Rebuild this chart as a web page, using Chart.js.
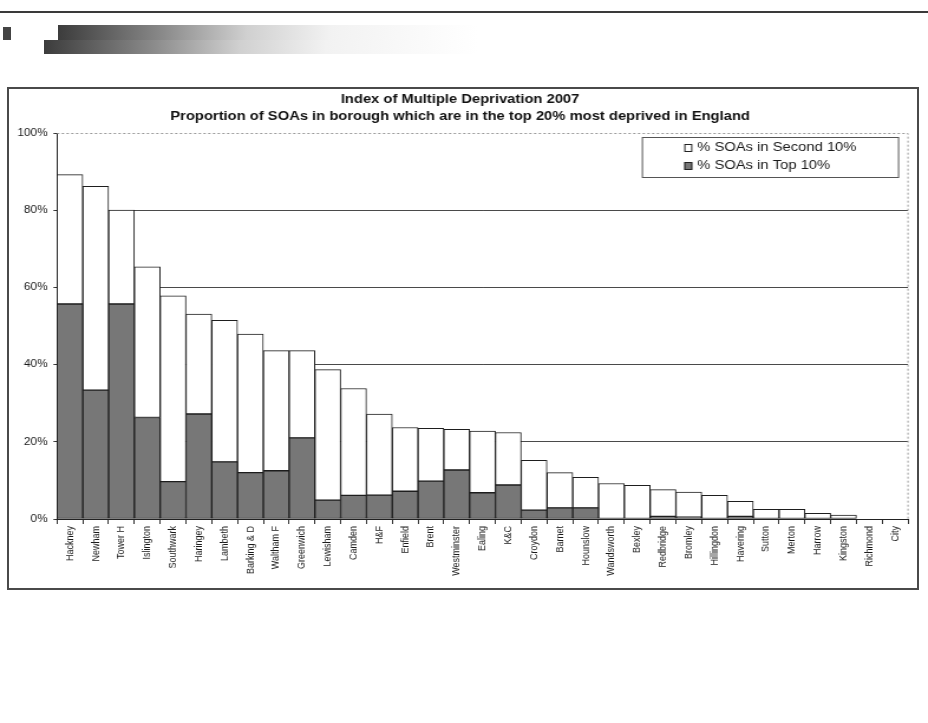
<!DOCTYPE html>
<html>
<head>
<meta charset="utf-8">
<title>Index of Multiple Deprivation 2007</title>
<script src="https://cdn.jsdelivr.net/npm/chart.js@4.4.1/dist/chart.umd.min.js"></script>
<style>
  html, body {
    margin: 0;
    padding: 0;
    background: #ffffff;
    width: 928px;
    height: 723px;
    overflow: hidden;
    font-family: "Liberation Sans", Arial, sans-serif;
  }
  .topRule {
    position: absolute;
    left: 0;
    top: 11px;
    width: 928px;
    height: 2px;
    background: #3a3a3a;
  }
  .smallSquare {
    position: absolute;
    left: 3px;
    top: 27px;
    width: 8px;
    height: 13px;
    background: #444444;
  }
  .bannerTop {
    position: absolute;
    left: 58px;
    top: 25px;
    width: 420px;
    height: 15px;
    background: linear-gradient(to right, #3c3c3c 0%, #8a8a8a 25%, #d0d0d0 45%, #f2f2f2 65%, #ffffff 100%);
  }
  .bannerBottom {
    position: absolute;
    left: 44px;
    top: 40px;
    width: 434px;
    height: 14px;
    background: linear-gradient(to right, #3c3c3c 0%, #8a8a8a 25%, #d0d0d0 45%, #f2f2f2 65%, #ffffff 100%);
  }
  .chartBox {
    position: absolute;
    left: 7px;
    top: 87px;
    width: 908px;
    height: 499px;
    border: 2px solid #4a4a4a;
  }
  /* the scanned original is stretched sideways, so the canvas is too */
  #imdChart {
    position: absolute;
    left: 0;
    top: 0;
    transform: scaleX(1.1806);
    transform-origin: 0 0;
  }
</style>
</head>
<body>
<div class="topRule"></div>
<div class="smallSquare"></div>
<div class="bannerTop"></div>
<div class="bannerBottom"></div>
<div class="chartBox"></div>
<canvas id="imdChart" width="786" height="723"></canvas>

<script>
// boroughs, ordered by total share in the top 20%
var boroughs = [
  "Hackney", "Newham", "Tower H", "Islington", "Southwark", "Haringey",
  "Lambeth", "Barking & D", "Waltham F", "Greenwich", "Lewisham", "Camden",
  "H&F", "Enfield", "Brent", "Westminster", "Ealing", "K&C", "Croydon",
  "Barnet", "Hounslow", "Wandsworth", "Bexley", "Redbridge", "Bromley",
  "Hillingdon", "Havering", "Sutton", "Merton", "Harrow", "Kingston",
  "Richmond", "City"
];

// % SOAs in the most deprived 10% in England
var topTenPct = [
  55.7, 33.4, 55.7, 26.3, 9.7, 27.2,
  14.8, 12.0, 12.5, 21.0, 4.9, 6.1,
  6.2, 7.2, 9.8, 12.7, 6.8, 8.8, 2.3,
  2.9, 2.9, 0, 0, 0.7, 0.5,
  0, 0.7, 0, 0, 0, 0,
  0, 0
];

// % SOAs in the second most deprived 10%
var secondTenPct = [
  33.5, 52.8, 24.3, 39.0, 48.1, 25.9,
  36.7, 35.9, 31.1, 22.6, 33.8, 27.7,
  21.0, 16.5, 13.7, 10.5, 16.0, 13.6, 12.9,
  9.1, 7.9, 9.2, 8.7, 6.9, 6.5,
  6.1, 3.9, 2.5, 2.5, 1.5, 1.0,
  0, 0
];

var yTicks = [0, 20, 40, 60, 80, 100];

var titleLines = [
  "Index of Multiple Deprivation 2007",
  "Proportion of SOAs in borough which are in the top 20% most deprived in England"
];

var fontName = "'Liberation Sans', Arial, sans-serif";

// plot area border, dashed on the top and right like the original
var plotFramePlugin = {
  id: "plotFrame",
  beforeDatasetsDraw: function (chart) {
    var a = chart.chartArea;
    var ctx = chart.ctx;
    ctx.save();
    ctx.strokeStyle = "#9a9a9a";
    ctx.lineWidth = 1;
    ctx.setLineDash([2, 2]);
    ctx.beginPath();
    ctx.moveTo(a.left, a.top + 0.5);
    ctx.lineTo(a.right, a.top + 0.5);
    ctx.lineTo(a.right, a.bottom);
    ctx.stroke();
    ctx.restore();
  },
};

// legend sits inside the plot area, top right, with a box round it
var boxedLegendPlugin = {
  id: "boxedLegend",
  afterDraw: function (chart) {
    var a = chart.chartArea;
    var ctx = chart.ctx;
    var boxW = 217;
    var boxH = 40;
    var left = a.right - 8.5 - boxW;
    var top = a.top + 4;

    ctx.save();
    ctx.fillStyle = "#ffffff";
    ctx.fillRect(left, top, boxW, boxH);
    ctx.strokeStyle = "#555555";
    ctx.lineWidth = 1;
    ctx.strokeRect(left + 0.5, top + 0.5, boxW, boxH);

    var items = chart.data.datasets.slice().reverse();
    ctx.font = "12.5px " + fontName;
    ctx.textBaseline = "middle";
    items.forEach(function (ds, i) {
      var y = top + 11 + i * 18;
      var x = left + 36;
      ctx.fillStyle = ds.backgroundColor;
      ctx.fillRect(x, y - 4, 6.8, 8);
      ctx.strokeStyle = "#222222";
      ctx.strokeRect(x + 0.5, y - 3.5, 5.8, 7);
      ctx.fillStyle = "#1a1a1a";
      ctx.fillText(ds.label, x + 11, y);
    });
    ctx.restore();
  },
};

var ctx = document.getElementById("imdChart");

new Chart(ctx, {
  type: "bar",
  data: {
    labels: boroughs,
    datasets: [
      {
        label: "% SOAs in Top 10%",
        data: topTenPct,
        backgroundColor: "#777777",
        borderColor: "#1e1e1e",
        borderWidth: 1,
        borderSkipped: false,
        barPercentage: 1,
        categoryPercentage: 1,
      },
      {
        label: "% SOAs in Second 10%",
        data: secondTenPct,
        backgroundColor: "#ffffff",
        borderColor: "#1e1e1e",
        borderWidth: 1,
        borderSkipped: false,
        barPercentage: 1,
        categoryPercentage: 1,
      },
    ],
  },
  options: {
    responsive: false,
    animation: false,
    layout: {
      padding: { top: 86, left: 10.3, right: 16.9, bottom: 134 },
    },
    plugins: {
      legend: { display: false },
      tooltip: { enabled: false },
      title: {
        display: true,
        text: titleLines,
        color: "#111111",
        font: { family: fontName, size: 12.5, weight: "bold", lineHeight: 1.36 },
        padding: { top: 5.5, bottom: 7.5 },
      },
    },
    scales: {
      x: {
        stacked: true,
        afterFit: function (scale) {
          scale.height = 70;
        },
        grid: {
          offset: true,
          drawOnChartArea: false,
          drawTicks: true,
          tickLength: 5,
          color: "#333333",
        },
        border: { color: "#222222", width: 1 },
        ticks: {
          autoSkip: false,
          minRotation: 90,
          maxRotation: 90,
          padding: 2,
          color: "#1a1a1a",
          font: { family: fontName, size: 9 },
        },
      },
      y: {
        stacked: true,
        min: 0,
        max: 100,
        afterFit: function (scale) {
          scale.width = 38;
        },
        afterBuildTicks: function (scale) {
          scale.ticks = yTicks.map(function (v) {
            return { value: v };
          });
        },
        grid: {
          color: function (c) {
            return c.tick && c.tick.value === 100 ? "rgba(0,0,0,0)" : "#4a4a4a";
          },
          tickColor: "#333333",
          tickLength: 3,
        },
        border: { color: "#222222", width: 1 },
        ticks: {
          padding: 5,
          color: "#1a1a1a",
          font: { family: fontName, size: 10 },
          callback: function (v) {
            return v + "%";
          },
        },
      },
    },
  },
  plugins: [plotFramePlugin, boxedLegendPlugin],
});
</script>
</body>
</html>
